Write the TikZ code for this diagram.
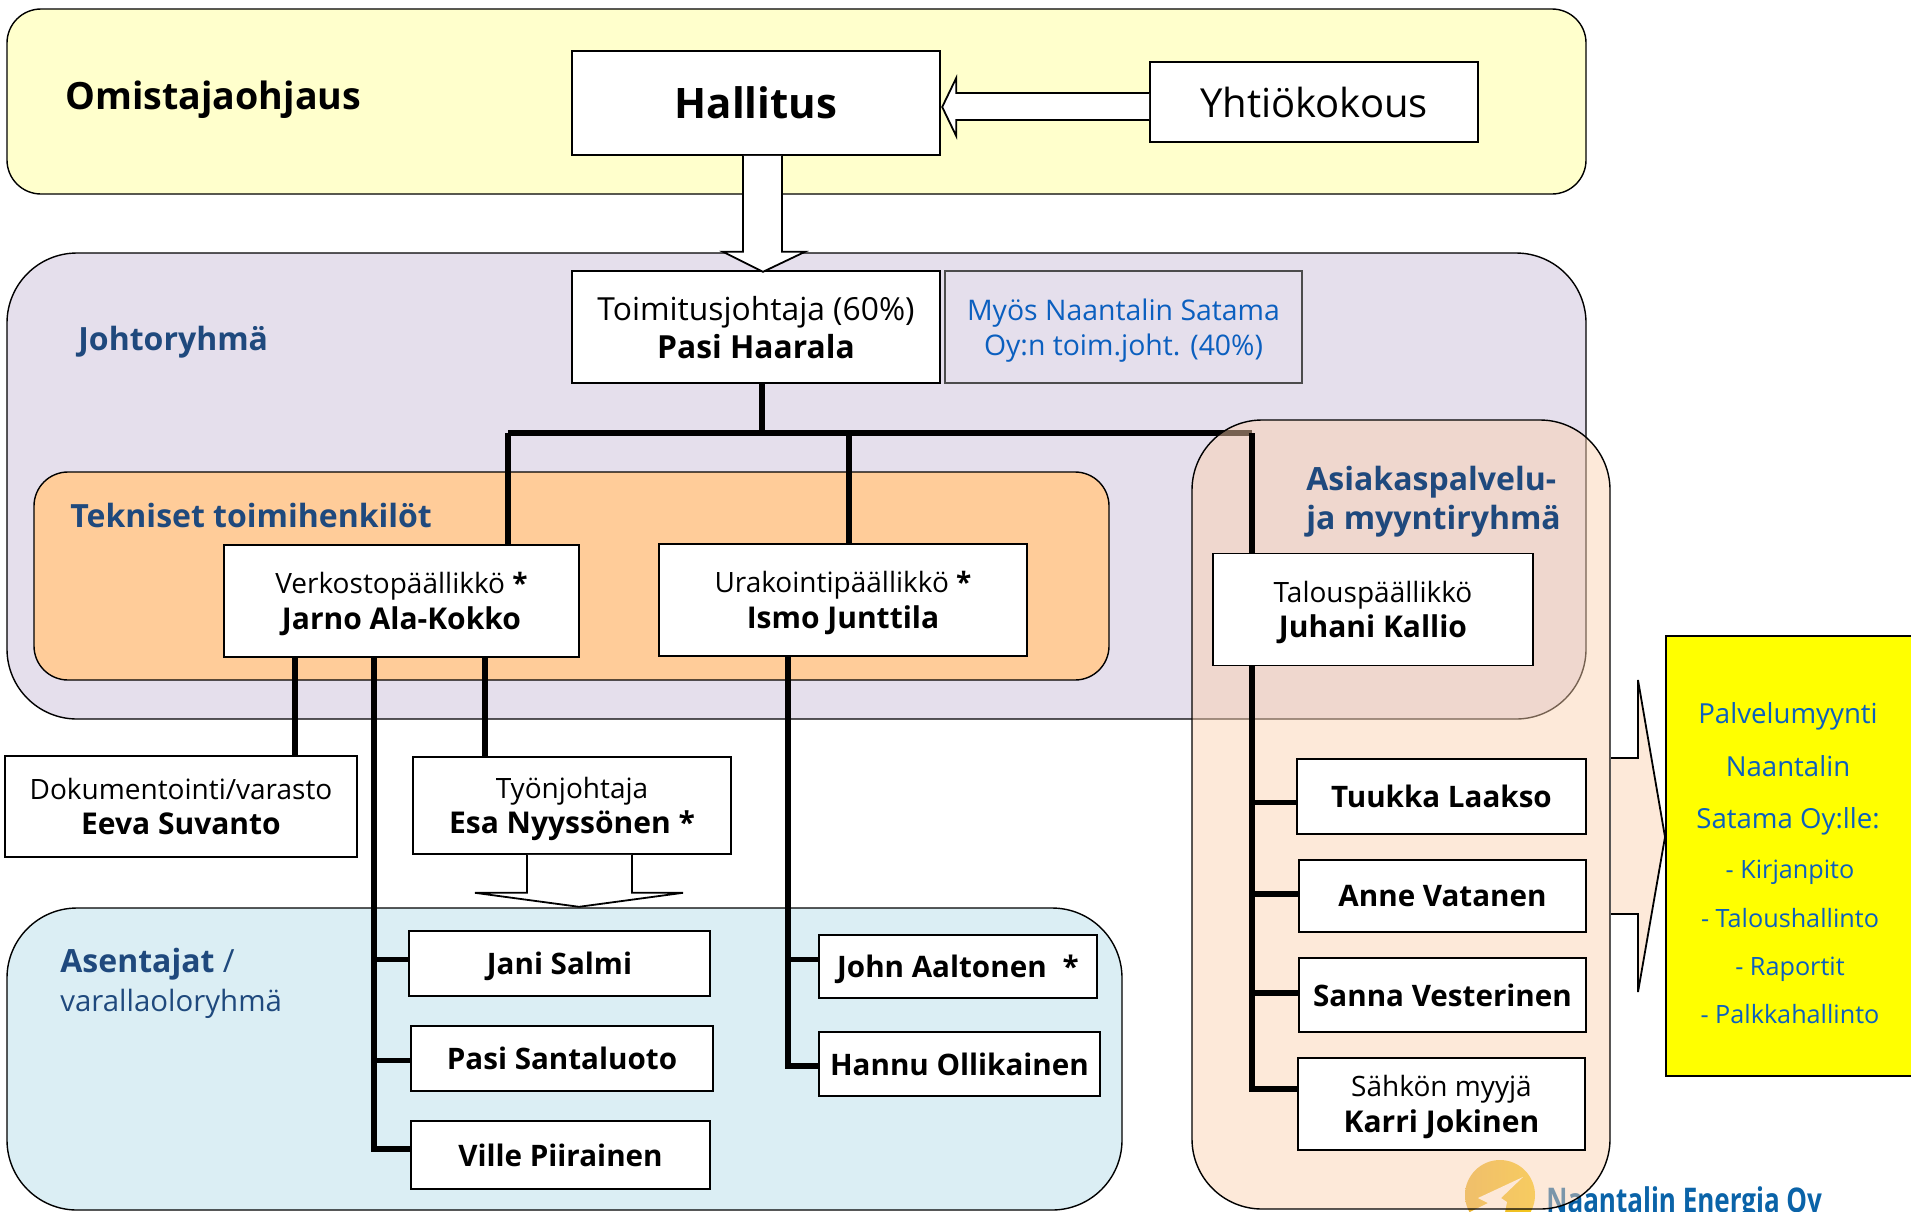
\documentclass[tikz,border=0pt]{standalone}
\usepackage{fontspec}
\setmainfont{Open Sans}
\newfontfamily\logofont[FakeStretch=0.765]{Open Sans}
\usepackage{xcolor}
\definecolor{colorOwner}{HTML}{FFFFCC}
\definecolor{colorLead}{HTML}{E5DFEC}
\definecolor{colorTech}{HTML}{FFCC99}
\definecolor{colorField}{HTML}{DBEEF4}
\definecolor{colorSales}{HTML}{FDE9D9}
\definecolor{colorSalesGlass}{HTML}{FBD0AE}
\definecolor{colorService}{HTML}{FFFF00}
\definecolor{colorTitle}{HTML}{1F497D}
\definecolor{colorNote}{HTML}{0B5FBF}
\definecolor{colorLogo}{HTML}{0A63A8}
\definecolor{colorSunA}{HTML}{E6B030}
\definecolor{colorSunB}{HTML}{F5C81C}
\usetikzlibrary{positioning}
\newcommand{\bodysize}{\fontsize{14}{17.7}\selectfont}
\newcommand{\namesize}{\fontsize{14.8}{18}\selectfont\bfseries}
\newcommand{\boxname}[1]{{\fontsize{15}{17.7}\selectfont\bfseries #1}}
\tikzset{
panel/.style={draw=black, line width=0.7pt, rounded corners=35pt},
orgbox/.style={draw=black, fill=white, line width=0.8pt, inner sep=0pt, align=center, text depth=-3.6pt, font=\bodysize},
namebox/.style={orgbox, text depth=-0.8pt, font=\namesize},
orgline/.style={line width=2.6pt, black},
blockarrow/.style={draw=black, fill=white, line width=0.9pt, line join=miter},
heading/.style={anchor=west, inner sep=0pt, align=left, font=\fontsize{16}{19.5}\selectfont\bfseries, text=colorTitle},
saleitem/.style={anchor=base, inner sep=0pt, text=colorNote, font=\fontsize{12.6}{18}\selectfont},
salehead/.style={saleitem, font=\fontsize{13.8}{18}\selectfont}
}
\begin{document}
\begin{tikzpicture}[x=0.5pt, y=-0.5pt]
\useasboundingbox (0,0) rectangle (1911,1211);
% panels
\draw[panel, fill=colorOwner, rounded corners=17pt] (7,9) rectangle (1586,194);
\draw[panel, fill=colorLead] (7,253) rectangle (1586,719);
\draw[panel, fill=colorTech, rounded corners=17pt] (34,472) rectangle (1109,680);
\draw[panel, fill=colorField] (7,908) rectangle (1122,1210);
% logo and main bus go under the sales panel
\shade[left color=colorSunA, right color=colorSunB] (1500,1195) circle (17.5pt);
\fill[white] (1523,1177) -- (1478,1198) -- (1488,1203) -- (1470,1212) -- (1505,1212) -- (1507,1202) -- (1501,1198) -- cycle;
\node[anchor=base west, inner sep=0pt, text=colorLogo, font=\logofont\fontsize{17}{18}\selectfont\bfseries] (logo) at (1546,1212) {Naantalin Energia Oy};
\coordinate (busleft) at (508,433);
\coordinate (busright) at (1252,433);
\draw[orgline] (busleft) -- (busright);
\draw[panel, fill=colorSalesGlass, fill opacity=0.47] (1192,420) rectangle (1610,1209);
% headings
\node[heading, text=black, font=\fontsize{18.8}{22}\selectfont\bfseries] (owner) at (65,100) {Omistajaohjaus};
\node[heading] (lead) at (78,342) {Johtoryhmä};
\node[heading] (tech) at (70,515) {Tekniset toimihenkilöt};
\node[heading] (sales) at (1306,502) {Asiakaspalvelu-\\ja myyntiryhmä};
\node[heading] (field) at (60,983) {Asentajat {\mdseries /}\\{\mdseries\fontsize{14.7}{19.5}\selectfont varallaoloryhmä}};
% boxes
\node[orgbox, text depth=-2.4pt, minimum width=184pt, minimum height=52pt, font=\fontsize{21}{24}\selectfont\bfseries] (board) at (756,103) {Hallitus};
\node[orgbox, text depth=-1.2pt, minimum width=164pt, minimum height=40pt, font=\fontsize{20}{24}\selectfont] (meeting) at (1314,102) {Yhtiökokous};
\node[orgbox, text depth=-1pt, minimum width=184pt, minimum height=56pt, font=\fontsize{15.9}{19}\selectfont] (ceo) at (756,327) {Toimitusjohtaja (60\%)\\\textbf{Pasi Haarala}};
\node[orgbox, fill=colorLead, draw=black!70, text=colorNote, minimum width=178.5pt, minimum height=56pt, font=\fontsize{14.2}{17.7}\selectfont] (ceonote) at (1123.5,327) {Myös Naantalin Satama\\Oy:n toim.joht. (40\%)};
\node[orgbox, minimum width=177.5pt, minimum height=56pt] (network) at (401.5,601) {Verkostopäällikkö \textbf{*}\\\boxname{Jarno Ala-Kokko}};
\node[orgbox, minimum width=184pt, minimum height=56pt] (contract) at (843,600) {Urakointipäällikkö \textbf{*}\\\boxname{Ismo Junttila}};
\node[orgbox, minimum width=160pt, minimum height=56pt] (finance) at (1373,609.5) {Talouspäällikkö\\\boxname{Juhani Kallio}};
\node[orgbox, minimum width=176pt, minimum height=50.5pt] (docs) at (181,806.5) {Dokumentointi/varasto\\\boxname{Eeva Suvanto}};
\node[orgbox, minimum width=159pt, minimum height=48.5pt] (foreman) at (572,805.5) {Työnjohtaja\\\boxname{Esa Nyyssönen *}};
\node[namebox, minimum width=144.5pt, minimum height=37.5pt] (tuukka) at (1441.5,796.5) {Tuukka Laakso};
\node[namebox, minimum width=143.5pt, minimum height=36pt] (anne) at (1442.5,896) {Anne Vatanen};
\node[namebox, minimum width=143.5pt, minimum height=37pt] (sanna) at (1442.5,995) {Sanna Vesterinen};
\node[orgbox, minimum width=143.5pt, minimum height=46pt] (karri) at (1441.5,1104) {Sähkön myyjä\\\boxname{Karri Jokinen}};
\node[namebox, minimum width=150.5pt, minimum height=32.5pt] (jani) at (559.5,963.5) {Jani Salmi};
\node[namebox, minimum width=151pt, minimum height=32.5pt] (pasi) at (562,1058.5) {Pasi Santaluoto};
\node[namebox, minimum width=149.5pt, minimum height=34pt] (ville) at (560.5,1155) {Ville Piirainen};
\node[namebox, minimum width=139pt, minimum height=31.5pt] (john) at (958,966.5) {John Aaltonen\hspace{8pt}*};
\node[namebox, minimum width=140.5pt, minimum height=32pt] (hannu) at (959.5,1064) {Hannu Ollikainen};
\node[draw=black, fill=colorService, line width=0.8pt, minimum width=135pt, minimum height=220pt, anchor=north west, inner sep=0pt] (service) at (1665,635) {};
% service texts
\node[salehead] (s1) at (1788,723) {Palvelumyynti};
\node[salehead] (s2) at (1788,776) {Naantalin};
\node[salehead] (s3) at (1788,828) {Satama Oy:lle:};
\node[saleitem] (s4) at (1790,878) {- Kirjanpito};
\node[saleitem] (s5) at (1790,927) {- Taloushallinto};
\node[saleitem] (s6) at (1790,975) {- Raportit};
\node[saleitem] (s7) at (1790,1023) {- Palkkahallinto};
% block arrows
\draw[blockarrow] ([yshift=-9pt]meeting.west) -- ++(-193,0) -- ++(0,16) -- ++(-14,-29) -- ++(14,-29) -- ++(0,15) -- ++(193,0);
\draw[blockarrow] (board.south -| 743,0) -- ++(0,96) -- ++(-20,0) -- ++(40,20) -- ++(42,-20) -- ++(-23,0) -- ++(0,-96);
\draw[blockarrow] ([xshift=-22.5pt]foreman.south) -- ++(0,38) -- ++(-52,0) -- ++(104,14) -- ++(104,-14) -- ++(-51,0) -- ++(0,-38);
\draw[blockarrow, fill=colorSales] (1611,758) -- ++(27,0) -- ++(0,-78) -- (service.west |- 0,837) -- (1638,992) -- ++(0,-78) -- ++(-27,0);
% reporting lines
\coordinate (fieldtrunk) at (374,657);
\coordinate (contracttrunk) at (788,656);
\draw[orgline] (ceo.south -| 762,0) -- (762,433);
\draw[orgline] (busleft) -- (busleft |- network.north);
\draw[orgline] (849,433) -- (contract.north -| 849,0);
\draw[orgline] (busright) -- (busright |- finance.north);
\draw[orgline] (network.south -| 295,0) -- (docs.north -| 295,0);
\draw[orgline] (network.south -| 485,0) -- (foreman.north -| 485,0);
\draw[orgline] ([yshift=3pt]ville.west) -| (fieldtrunk);
\draw[orgline] ([yshift=2.2pt]jani.west) -- ([yshift=2.2pt]jani.west -| fieldtrunk);
\draw[orgline] ([yshift=-1pt]pasi.west) -- ([yshift=-1pt]pasi.west -| fieldtrunk);
\draw[orgline] ([yshift=-1pt]hannu.west) -| (contracttrunk);
\draw[orgline] ([yshift=3.7pt]john.west) -- ([yshift=3.7pt]john.west -| contracttrunk);
\draw[orgline] ([yshift=7.5pt]karri.west) -| (finance.south -| busright);
\draw[orgline] ([yshift=-2.8pt]tuukka.west) -- ([yshift=-2.8pt]tuukka.west -| busright);
\draw[orgline] ([yshift=1pt]anne.west) -- ([yshift=1pt]anne.west -| busright);
\draw[orgline] ([yshift=1pt]sanna.west) -- ([yshift=1pt]sanna.west -| busright);
\end{tikzpicture}
\end{document}
